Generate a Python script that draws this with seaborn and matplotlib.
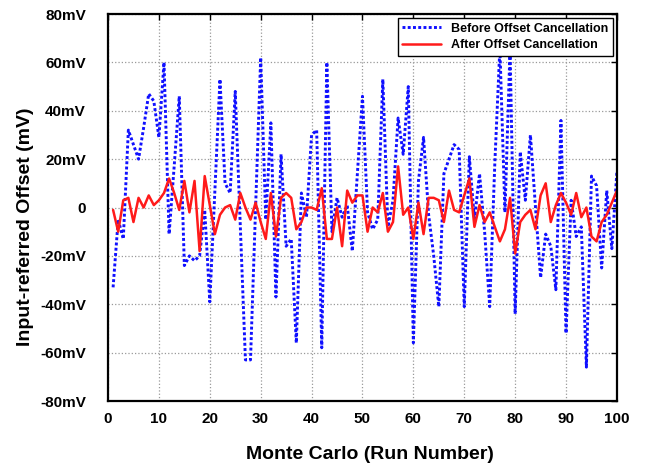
import matplotlib
matplotlib.use("Agg")
import matplotlib.pyplot as plt
import seaborn as sns

# ------------------------------------------------------------
# Data (mV per Monte Carlo run)
# ------------------------------------------------------------
runs = list(range(1, 101))

before_cancel = [
    -33, -5, -13, 32, 26, 20, 33, 47, 44, 29,
    60, -11, 17, 46, -24, -20, -22, -20, -1, -39,
    7, 53, 10, 6, 48, -8, -63, -63, 0, 62,
    -5, 35, -37, 22, -16, -13, -56, 6, -4, 30,
    32, -58, 60, -10, 4, -4, 1, -18, 14, 46,
    -2, -9, -5, 53, -8, 3, 37, 22, 50, -56,
    11, 29, -3, -20, -41, 14, 20, 26, 24, -41,
    21, -5, 14, -10, -41, 18, 66, -2, 66, -44,
    23, 3, 30, 0, -29, -11, -16, -34, 36, -52,
    3, -12, -8, -66, 13, 9, -25, 7, -17, 15,
]

after_cancel = [
    -1, -10, 3, 4, -6, 4, 0, 5, 1, 3,
    6, 12, 6, -1, 11, -2, 11, -18, 13, 1,
    -11, -3, 0, 1, -5, 6, 0, -5, 2, -6,
    -13, 6, -12, 4, 6, 4, -9, -6, 0, 0,
    -1, 8, -13, -13, 0, -16, 7, 2, 5, 5,
    -10, 0, -2, 6, -10, -6, 17, -3, 0, -13,
    2, -11, 4, 4, 3, -6, 7, -1, -2, 5,
    12, -8, 1, -6, -2, -8, -14, -9, 4, -19,
    -6, -3, -1, -9, 5, 10, -6, 1, 6, 2,
    -3, 6, -4, 0, -12, -14, -6, -3, 2, 7,
]

x_ticks = [0, 10, 20, 30, 40, 50, 60, 70, 80, 90, 100]
y_ticks = [-80, -60, -40, -20, 0, 20, 40, 60, 80]
y_tick_labels = ["-80mV", "-60mV", "-40mV", "-20mV", "0",
                 "20mV", "40mV", "60mV", "80mV"]

sns.set_style("white")
plt.rcParams["font.family"] = ["Liberation Sans", "DejaVu Sans"]
plt.rcParams["font.weight"] = "bold"
plt.rcParams["text.color"] = "black"
plt.rcParams["axes.labelcolor"] = "black"
plt.rcParams["xtick.color"] = "black"
plt.rcParams["ytick.color"] = "black"

fig = plt.figure(figsize=(6.46, 4.67), dpi=100)
ax = fig.add_axes([0.1672, 0.1413, 0.7878, 0.8287])

sns.lineplot(x=runs, y=before_cancel, ax=ax, color="#1010ff",
             linestyle=(0, (1, 0.8)), linewidth=2.1,
             label="Before Offset Cancellation")
sns.lineplot(x=runs, y=after_cancel, ax=ax, color="#ff1a1a",
             linewidth=1.8, label="After Offset Cancellation")

ax.set_xlim(0, 100)
ax.set_ylim(-80, 80)
ax.set_xticks(x_ticks)
ax.set_yticks(y_ticks)
ax.set_yticklabels(y_tick_labels)

ax.grid(True, linestyle=":", color="#999999", linewidth=0.9)
ax.set_axisbelow(True)

ax.tick_params(direction="in", top=True, right=True, length=4,
               width=1, labelsize=11, colors="black")
ax.tick_params(axis="y", pad=16)
ax.tick_params(axis="x", pad=8)
for lab in ax.get_xticklabels() + ax.get_yticklabels():
    lab.set_fontweight("bold")

for sp in ax.spines.values():
    sp.set_color("black")
    sp.set_linewidth(1.6)

ax.set_xlabel("Monte Carlo (Run Number)", fontsize=14, fontweight="bold")
ax.set_ylabel("Input-referred Offset (mV)", fontsize=14, fontweight="bold")
ax.xaxis.set_label_coords(0.515, -0.115)
ax.yaxis.set_label_coords(-0.145, 0.45)

leg = ax.legend(loc="upper right", fontsize=9, frameon=True,
                fancybox=False, framealpha=1, edgecolor="black",
                handlelength=3.1, borderaxespad=0.35, labelspacing=0.35,
                borderpad=0.35)
leg.get_frame().set_linewidth(1.0)
leg.set_zorder(10)
for t in leg.get_texts():
    t.set_fontweight("bold")
    t.set_color("black")

fig.savefig("out.png", dpi=100)
